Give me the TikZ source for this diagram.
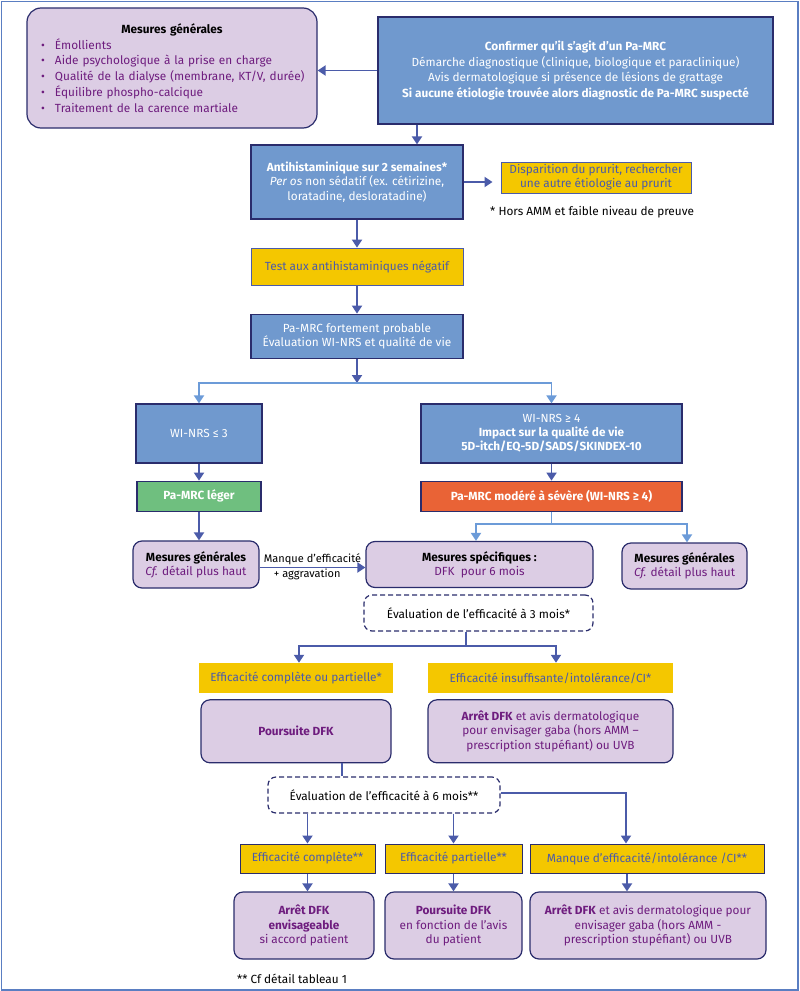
\documentclass[tikz,border=0pt]{standalone}
\usepackage{fontspec}
\setmainfont{Fira Sans}
\usepackage{xcolor}
\usepackage{tikz}
\usetikzlibrary{arrows.meta, positioning}

\definecolor{cadre}{RGB}{90,126,194}
\definecolor{bleu}{RGB}{112,153,206}
\definecolor{marine}{RGB}{42,44,108}
\definecolor{ardoise}{RGB}{75,91,169}
\definecolor{ciel}{RGB}{108,155,216}
\definecolor{jaune}{RGB}{244,199,0}
\definecolor{vert}{RGB}{111,191,127}
\definecolor{rouille}{RGB}{233,99,54}
\definecolor{lilas}{RGB}{220,205,228}
\definecolor{prune}{RGB}{110,28,126}

\newcommand{\puce}{\hspace*{6pt}\makebox[14pt][l]{\textbullet}}

\begin{document}
\begin{tikzpicture}[x=1pt, y=-1pt,
  >={Triangle[length=8pt,width=10pt]}, font=\fontsize{11.8}{14.2}\selectfont,
  bx/.style={draw=marine, line width=1.2pt, fill=bleu, text=white, align=center, inner sep=2pt},
  jn/.style={draw=ardoise, line width=1pt, fill=jaune, text=ardoise, align=center, inner sep=2pt},
  jn0/.style={fill=jaune, text=ardoise, align=center, inner sep=2pt},
  lil/.style={draw=marine, line width=1.2pt, fill=lilas, text=prune, rounded corners=9pt,
              align=center, inner sep=2pt},
  evl/.style={draw=marine, line width=1.2pt, dash pattern=on 5pt off 3pt, rounded corners=8pt,
              align=center, inner sep=2pt},
  fl/.style={->, draw=ardoise, line width=1.8pt},
  fc/.style={->, draw=ciel, line width=1.8pt}]
  \useasboundingbox (0,0) rectangle (800,991);
  \draw[cadre, line width=1.2pt] (1.5,1.5) rectangle (798,990);
  % haut
  \node[lil, rounded corners=14pt, minimum width=290pt, minimum height=120pt, text width=274pt,
        inner xsep=8pt, align=left, font=\fontsize{11.8}{15.8}\selectfont] (mg1) at (172,68)
    {\makebox[274pt]{\textcolor{black}{\textbf{Mesures générales}}}\\
     \puce Émollients\\
     \puce Aide psychologique à la prise en charge\\
     \puce Qualité de la dialyse (membrane, KT/V, durée)\\
     \puce Équilibre phospho-calcique\\
     \puce Traitement de la carence martiale};
  \node[bx, minimum width=395pt, minimum height=107pt, font=\fontsize{11.8}{15.5}\selectfont]
    (conf) at (575.5,70.5)
    {\textbf{Confirmer qu'il s'agit d'un Pa-MRC}\\
     Démarche diagnostique (clinique, biologique et paraclinique)\\
     Avis dermatologique si présence de lésions de grattage\\
     \textbf{Si aucune étiologie trouvée alors diagnostic de Pa-MRC suspecté}};
  % antihistaminique
  \node[bx, minimum width=212pt, minimum height=74pt] (ah) at (357,182)
    {\textbf{Antihistaminique sur 2 semaines*}\\
     \textit{Per os} non sédatif (ex. cétirizine,\\loratadine, desloratadine)};
  \node[jn, minimum width=190pt, minimum height=31pt] (disp) at (596,177.5)
    {Disparition du prurit, rechercher\\une autre étiologie au prurit};
  \node[anchor=west, inner sep=0pt] (nb1) at (490,212) {* Hors AMM et faible niveau de preuve};
  \node[jn, minimum width=212pt, minimum height=37pt, below=28pt of ah] (test)
    {Test aux antihistaminiques négatif};
  \node[bx, minimum width=212pt, minimum height=44pt, below=28pt of test] (fort)
    {Pa-MRC fortement probable\\Évaluation WI-NRS et qualité de vie};
  % WI-NRS
  \node[bx, minimum width=126pt, minimum height=59pt] (wi3) at (199,433.5) {WI-NRS ≤ 3};
  \node[bx, minimum width=261pt, minimum height=59pt] (wi4) at (551.5,433.5)
    {WI-NRS ≥ 4\\\textbf{Impact sur la qualité de vie}\\\textbf{5D-itch/EQ-5D/SADS/SKINDEX-10}};
  \node[bx, fill=vert, minimum width=124pt, minimum height=30pt, below=17pt of wi3] (leger)
    {\textbf{Pa-MRC léger}};
  \node[bx, fill=rouille, minimum width=261pt, minimum height=30pt, below=17pt of wi4] (mod)
    {\textbf{Pa-MRC modéré à sévère (WI-NRS ≥ 4)}};
  % mesures
  \node[lil, minimum width=126pt, minimum height=47pt] (mg2) at (196,564.5)
    {\textcolor{black}{\textbf{Mesures générales}}\\\textit{Cf.} détail plus haut};
  \node[lil, minimum width=227pt, minimum height=46pt] (ms) at (479.5,564.5)
    {\textcolor{black}{\textbf{Mesures spécifiques :}}\\DFK\ \ pour 6 mois};
  \node[lil, minimum width=125pt, minimum height=46pt] (mg3) at (684.5,566)
    {\textcolor{black}{\textbf{Mesures générales}}\\\textit{Cf.} détail plus haut};
  \node[evl, minimum width=229pt, minimum height=36pt] (ev3) at (478.5,613)
    {Évaluation de l'efficacité à 3 mois*};
  % a 3 mois
  \node[jn0, minimum width=194pt, minimum height=30pt] (y1) at (296,678)
    {Efficacité complète ou partielle*};
  \node[jn0, minimum width=245pt, minimum height=30pt] (y2) at (550.5,678)
    {Efficacité insuffisante/intolérance/CI*};
  \node[lil, minimum width=190pt, minimum height=63pt, below=6pt of y1] (p1)
    {\textbf{Poursuite DFK}};
  \node[lil, minimum width=245pt, minimum height=63pt, below=6pt of y2] (p2)
    {\textbf{Arrêt DFK} et avis dermatologique\\pour envisager gaba (hors AMM –\\prescription stupéfiant) ou UVB};
  % a 6 mois
  \node[evl, minimum width=232pt, minimum height=36pt] (ev6) at (384,795)
    {Évaluation de l'efficacité à 6 mois**};
  \node[jn, draw=marine, minimum width=135pt, minimum height=29pt] (y3) at (307.5,858.5)
    {Efficacité complète**};
  \node[jn, draw=marine, minimum width=137pt, minimum height=29pt] (y4) at (453.5,858.5)
    {Efficacité partielle**};
  \node[jn, draw=marine, minimum width=234pt, minimum height=29pt] (y5) at (647,858.5)
    {Manque d’efficacité/intolérance /CI**};
  \node[lil, minimum width=140pt, minimum height=67pt] (p3) at (304,925.5)
    {\textbf{Arrêt DFK}\\\textbf{envisageable}\\si accord patient};
  \node[lil, minimum width=137pt, minimum height=67pt] (p4) at (453.5,925.5)
    {\textbf{Poursuite DFK}\\en fonction de l'avis\\du patient};
  \node[lil, minimum width=236pt, minimum height=67pt] (p5) at (648,925.5)
    {\textbf{Arrêt DFK} et avis dermatologique pour\\envisager gaba (hors AMM -\\prescription stupéfiant) ou UVB};
  \node[anchor=west, inner sep=0pt] (nb2) at (237,979) {** Cf détail tableau 1};
  % branches
  \coordinate (br1) at (357,383);
  \coordinate (br2) at (551.5,524);
  \coordinate (br3) at (466,646);
  % fleches
  \draw[fl] (conf.west) -- (conf.west -| mg1.east);
  \draw[fl] ([xshift=-158.5pt]conf.south) -- ([xshift=-158.5pt]conf.south |- ah.north);
  \draw[fl] (ah.east) -- ([xshift=-8pt]disp.west |- ah.east);
  \draw[fl] (ah) -- (test); \draw[fl] (test) -- (fort);
  \draw[fl] (fort) -- (br1);
  \draw[fc] (br1) -| (wi3.north); \draw[fc] (br1) -| (wi4.north);
  \draw[fl] (wi3) -- (leger); \draw[fl] (wi4) -- (mod);
  \draw[fl] (leger.south) -- (leger.south |- mg2.north);
  \draw[ciel, line width=1.8pt] (mod.south) -- (br2);
  \draw[fc] (br2) -| ([xshift=-3.5pt]ms.north); \draw[fc] (br2) -| ([xshift=2.5pt]mg3.north);
  \draw[fl] ([yshift=-3pt]mg2.east) -- ([yshift=-3pt]mg2.east -| ms.west)
    node[pos=.5, above, inner sep=2pt, font=\fontsize{11}{13}\selectfont] (lb1) {Manque d'efficacité}
    node[pos=.45, below, inner sep=1pt, font=\fontsize{11}{13}\selectfont] (lb2) {+ aggravation};
  \draw[ardoise, line width=1.8pt] ([xshift=-12.5pt]ev3.south) -- (br3);
  \draw[fl] (br3) -| ([xshift=3pt]y1.north); \draw[fl] (br3) -| ([xshift=5.5pt]y2.north);
  \draw[ardoise, line width=1.8pt] ([xshift=46pt]p1.south) -- ([xshift=46pt]p1.south |- ev6.north);
  \draw[fl] (y3.north |- ev6.south) -- (y3.north);
  \draw[fl] (y4.north |- ev6.south) -- (y4.north);
  \draw[fl] ([yshift=2pt]ev6.east) -| ([xshift=-21pt]y5.north);
  \draw[fl] (y3.south) -- (y3.south |- p3.north);
  \draw[fl] (y4.south) -- (y4.south |- p4.north);
  \draw[fl] ([xshift=-20pt]y5.south) -- ([xshift=-20pt]y5.south |- p5.north);
\end{tikzpicture}
\end{document}
